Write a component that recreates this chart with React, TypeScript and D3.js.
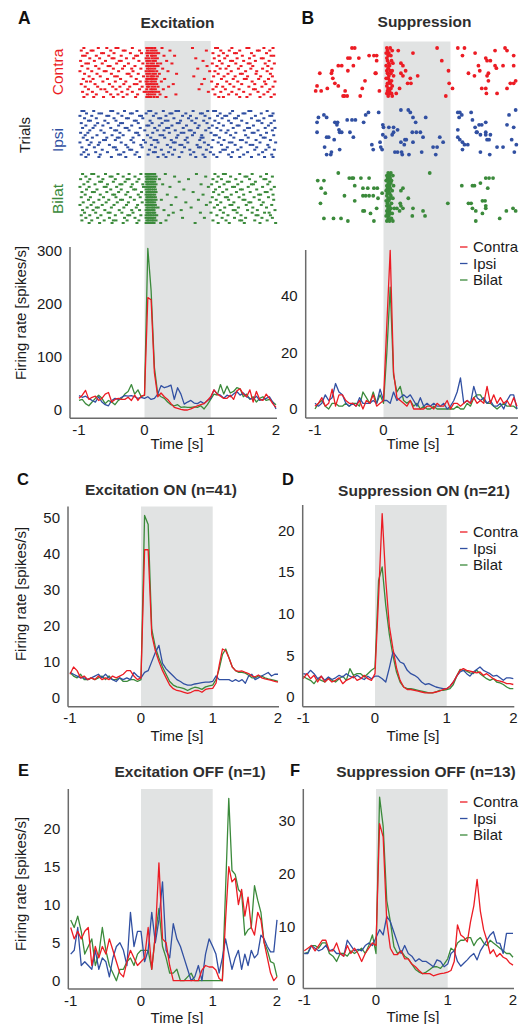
import React from 'react';
import * as d3 from 'd3';

// ---------- DATA ----------
const conditions = ['Contra', 'Ipsi', 'Bilat'];
const xTickValues = [-1, 0, 1, 2];

const binTimes = [-1, -0.95, -0.9, -0.85, -0.8, -0.75, -0.7, -0.65, -0.6, -0.55, -0.5, -0.45, -0.4, -0.35, -0.3, -0.25, -0.2, -0.15, -0.1, -0.05,
  0, 0.05, 0.1, 0.15, 0.2, 0.25, 0.3, 0.35, 0.4, 0.45, 0.5, 0.55, 0.6, 0.65, 0.7, 0.75, 0.8, 0.85, 0.9, 0.95,
  1, 1.05, 1.1, 1.15, 1.2, 1.25, 1.3, 1.35, 1.4, 1.45, 1.5, 1.55, 1.6, 1.65, 1.7, 1.75, 1.8, 1.85, 1.9, 1.95, 2];

// Panel A PSTH (spikes/s)
const psthAContra = [22, 28, 37, 20, 24, 26, 18, 22, 30, 33, 15, 20, 22, 20, 20, 24, 18, 28, 18, 26,
  28, 212, 208, 70, 25, 32, 25, 20, 12, 5, 3, 1, 0, 0, 2, 5, 8, 10, 12, 18,
  25, 38, 30, 26, 22, 22, 28, 20, 36, 40, 30, 25, 38, 15, 35, 20, 18, 30, 22, 12, 5];
const psthAIpsi = [27, 24, 26, 22, 18, 15, 25, 15, 10, 8, 18, 22, 20, 24, 27, 26, 27, 25, 22, 24,
  22, 25, 20, 22, 30, 46, 42, 44, 47, 20, 42, 30, 11, 15, 18, 13, 12, 16, 12, 18,
  22, 38, 30, 28, 22, 28, 25, 30, 35, 28, 32, 25, 22, 20, 26, 18, 20, 22, 25, 15, 2];
const psthABilat = [18, 20, 12, 8, 15, 22, 28, 22, 12, 18, 15, 10, 18, 22, 30, 35, 48, 30, 38, 25,
  28, 305, 225, 80, 30, 25, 22, 15, 10, 8, 10, 5, 6, 5, 5, 6, 5, 8, 2, 10,
  20, 30, 28, 48, 30, 45, 32, 35, 42, 40, 25, 30, 20, 25, 15, 22, 25, 18, 20, 15, 10];

// Panel B PSTH
const psthBContra = [1, 2, 4, 1, 2, 7, 1, 5, 5, 3, 2, 2, 1, 3, 0, 3, 2, 5, 1, 2,
  3, 30, 56, 13, 4, 3, 2, 1, 3, 0, 0, 0, 0, 1, 1, 0, 2, 1, 1, 3,
  0, 2, 2, 1, 2, 3, 2, 4, 2, 3, 2, 8, 2, 5, 2, 4, 2, 3, 1, 4, 1];
const psthBIpsi = [2, 1, 2, 5, 3, 4, 9, 6, 5, 2, 1, 2, 1, 4, 2, 2, 2, 3, 2, 7,
  3, 3, 2, 6, 3, 4, 5, 4, 5, 3, 1, 4, 1, 2, 1, 2, 1, 1, 2, 0,
  1, 3, 6, 11, 2, 3, 2, 8, 4, 3, 4, 2, 3, 1, 1, 2, 0, 3, 5, 5, 0];
const psthBBilat = [0, 2, 3, 1, 0, 2, 2, 1, 1, 2, 1, 2, 2, 1, 6, 4, 2, 6, 2, 5,
  2, 20, 43, 12, 6, 8, 3, 2, 3, 1, 2, 0, 1, 0, 0, 1, 0, 0, 0, 0,
  0, 0, 1, 0, 0, 2, 1, 4, 5, 5, 3, 2, 2, 1, 0, 1, 2, 1, 1, 1, 0];

// Panel C (Excitation ON)
const psthCContra = [6.5, 8.5, 7.5, 5.5, 6, 5, 5.5, 5, 6, 5, 5.5, 5, 6, 5.5, 6, 6.5, 7.5, 7.5, 6, 5,
  5.5, 41, 41, 17.5, 13, 10, 7.5, 5.5, 3.5, 2.5, 2, 1.8, 1.5, 1.2, 1.5, 2, 2, 1.5, 2.3, 2.5,
  2.6, 4, 9, 13.5, 13, 11, 8.5, 7.5, 7.3, 7.4, 7, 6.7, 6, 5.8, 6.3, 5.5, 5.2, 5, 4.8, 4.5, 4.3];
const psthCIpsi = [7, 6.5, 6, 5.5, 5.5, 5, 5.5, 6, 6.5, 5.5, 6.5, 5.5, 5, 4.5, 5.5, 5, 5.5, 5, 7, 6,
  5.5, 7, 7.5, 10, 12.5, 14.5, 9.5, 8, 7, 6, 5, 4.5, 3.8, 3.5, 3.5, 3.8, 4, 4.2, 4.3, 4.3,
  4.5, 6, 5, 5, 5, 5, 4.5, 5, 4.5, 5, 4, 6, 6.5, 5, 5.5, 6, 6.5, 7, 6, 6.5, 6.5];
const psthCBilat = [7, 6, 5.5, 6.5, 5, 5, 5.5, 5, 5.5, 6, 5, 6, 5, 5, 5.5, 4.5, 4.5, 5, 5, 4.5,
  5, 50.5, 48, 19, 14, 11, 8.5, 6.5, 4.5, 3.5, 3, 2.8, 2.5, 2, 2.5, 2.9, 2.7, 2.3, 3, 3.3,
  3.5, 5, 8, 12, 13.5, 11, 8.5, 7.5, 7, 7, 6.8, 6.2, 5.5, 5.5, 6, 6, 5.5, 5.2, 5, 4.8, 4.5];

// Panel D (Suppression ON)
const psthDContra = [2.2, 2.8, 2.2, 2.6, 1.8, 2.5, 1.8, 2.2, 1.8, 2.0, 2.3, 1.6, 2.0, 2.2, 2.5, 2.0, 2.2, 2.6, 2.2, 2.0,
  2.8, 12, 22, 14, 8.5, 5.8, 3.5, 2, 1.2, 0.9, 0.9, 0.8, 0.7, 0.6, 0.5, 0.5, 0.5, 0.6, 0.7, 0.9,
  1.0, 1.3, 1.8, 2.5, 3.2, 3.4, 3.2, 3.1, 3.0, 2.9, 3.0, 2.6, 2.8, 2.5, 2.2, 2.0, 1.9, 1.8, 1.6, 1.6, 1.5];
const psthDIpsi = [2.8, 2.7, 3.2, 2.8, 2.2, 2.5, 2.0, 2.4, 2.1, 2.3, 2.6, 2.4, 2.8, 2.5, 2.3, 2.6, 2.3, 2.1, 2.5, 2.2,
  2.5, 2.5, 2.2, 1.8, 3.5, 5.4, 4.8, 4.2, 4.0, 3.2, 2.8, 2.6, 2.3, 1.8, 1.5, 1.6, 1.4, 1.2, 1.1, 1.0,
  1.0, 1.3, 1.8, 2.5, 3.0, 3.2, 2.8, 2.5, 3.0, 3.3, 3.6, 3.2, 3.0, 2.8, 2.5, 2.6, 2.3, 2.0, 2.3, 2.3, 2.2];
const psthDBilat = [2.5, 2.2, 2.0, 1.6, 2.2, 2.0, 1.8, 2.3, 2.0, 1.8, 2.2, 2.5, 2.0, 3.4, 2.6, 2.8, 2.8, 2.4, 2.8, 3.2,
  3.5, 14, 15.6, 11, 7.5, 5, 3, 1.8, 1.2, 1.0, 1.0, 0.9, 0.8, 0.7, 0.6, 0.5, 0.5, 0.6, 0.8, 0.8,
  0.9, 1.0, 1.5, 2.5, 3.3, 3.2, 3.1, 2.9, 2.8, 3.2, 2.8, 2.5, 2.2, 2.0, 2.2, 1.8, 1.7, 1.5, 1.2, 1.0, 1.0];

// Panel E (Excitation OFF)
const psthEContra = [7, 5.5, 6.5, 5.5, 6.5, 7, 2, 4.5, 3, 4.5, 3.5, 5.5, 4, 2.5, 1, 0.5, 2.5, 4, 3, 2,
  2.5, 3, 7, 1.5, 6, 15.5, 5.5, 5, 2, 0, 0, 0, 0, 0, 0, 0, 0, 1.4, 2, 1.8,
  1.8, 1.4, 0.3, 0, 8, 15, 13, 13.5, 10, 12, 8.5, 11, 7, 6, 9, 8, 5, 3, 1, 0, 0.5];
const psthEIpsi = [3.5, 4, 7, 2, 2.5, 2, 1.5, 4, 1.5, 3, 2.5, 0.5, 3, 4.5, 5, 4, 2, 9, 4.5, 6.5,
  6.5, 2.5, 4, 9, 5, 8, 13, 4, 3, 7.5, 5.5, 4.5, 3, 1.5, 0, 0.5, 2, 0, 3.5, 5.5,
  4.5, 3.5, 1, 3, 5.5, 3.5, 1.5, 3, 4, 1.5, 3.5, 2, 4, 3, 3.5, 6, 5.5, 4.5, 3.8, 3.8, 8];
const psthEBilat = [8, 7, 8.5, 6.5, 3.5, 4.5, 5.5, 2, 3.5, 7, 4, 2, 1, 0, 1.5, 1.5, 2.5, 3, 2, 3.5,
  4, 4, 4, 1.5, 6, 9.5, 4.5, 3, 1, 1, 1.5, 0, 0, 0.5, 1, 0, 0, 0, 0, 0,
  0, 0, 0, 0, 12, 24, 14.5, 14, 12, 11.5, 6, 6.7, 7, 12.5, 10.6, 9, 5, 4, 2.5, 2.3, 0.5];

// Panel F (Suppression OFF)
const psthFContra = [5.5, 6, 6.5, 5.5, 6.5, 7.5, 7.5, 5.5, 5.5, 7, 5, 4.5, 6.5, 5, 6, 5, 3.5, 5, 6, 7,
  6.5, 29.5, 27, 11, 6, 4.8, 4.8, 5.5, 4, 4, 3, 2.5, 1.8, 1.2, 1.2, 1.2, 0.8, 1, 1.2, 1.3,
  1.5, 1.8, 3.5, 10.4, 8.5, 8, 7.2, 11, 14, 19, 13, 9.5, 7.5, 5, 5.7, 4.4, 5, 4.3, 4, 3.2, 2.8];
const psthFIpsi = [5, 5, 6.5, 6, 5.5, 5.8, 6.5, 5.5, 5.8, 5, 5, 4.5, 7.5, 6.5, 5.5, 5.8, 5.5, 6.5, 7, 6.5,
  8, 9.5, 8.5, 12, 11, 9, 7, 5, 6.5, 5, 4.5, 3.5, 4, 3.5, 3.5, 3, 2.5, 3.8, 3.5, 2.5,
  3, 5, 5.5, 3.5, 2.6, 3.2, 3.8, 4.5, 5, 3.8, 5.5, 6.5, 7.5, 8.5, 9.1, 7, 6.9, 5, 8.8, 8.8, 8.8];
const psthFBilat = [5, 5.2, 6.5, 6.5, 6, 7, 7, 5, 4.5, 3.5, 5, 5, 4.5, 5.5, 5, 5.5, 6, 5, 6.5, 8.5,
  5, 34.5, 29, 15, 11, 6.3, 5, 5.5, 4.5, 4, 3, 2, 1.5, 1.2, 1.5, 2, 2.5, 2.5, 2.2, 3,
  4, 6, 5.5, 7, 7.5, 7.5, 8, 8, 6.5, 7.5, 8, 7, 6.5, 7.5, 7, 6.5, 6, 5.5, 5, 5, 4.3];

// Panel A raster: spike times (s) per trial
const rasterAContra = [
  [-0.93, -0.71, -0.58, -0.44, -0.41, -0.19, 0.03, 0.07, 0.11, 0.15, 0.26, 0.72, 1.07, 1.10, 1.32, 1.55, 1.58, 1.81, 1.95],
  [-0.97, -0.82, -0.79, -0.52, -0.33, -0.30, -0.08, 0.04, 0.09, 0.13, 0.17, 0.38, 0.93, 1.15, 1.28, 1.44, 1.71, 1.74, 1.90],
  [-0.88, -0.66, -0.63, -0.47, -0.22, -0.05, 0.03, 0.06, 0.10, 0.14, 0.18, 0.21, 1.03, 1.19, 1.36, 1.39, 1.62, 1.85],
  [-0.95, -0.91, -0.74, -0.55, -0.36, -0.14, -0.11, 0.04, 0.10, 0.12, 0.16, 0.29, 0.45, 1.12, 1.25, 1.48, 1.66, 1.92, 1.96],
  [-0.84, -0.69, -0.50, -0.47, -0.28, -0.17, 0.02, 0.06, 0.11, 0.15, 0.19, 0.77, 1.05, 1.21, 1.40, 1.59, 1.77, 1.80],
  [-0.98, -0.77, -0.60, -0.39, -0.36, -0.09, 0.03, 0.07, 0.12, 0.16, 0.33, 0.88, 1.13, 1.30, 1.33, 1.50, 1.68, 1.89],
  [-0.90, -0.86, -0.65, -0.43, -0.25, -0.03, 0.04, 0.09, 0.13, 0.19, 0.24, 0.41, 1.02, 1.17, 1.38, 1.57, 1.60, 1.83, 1.97],
  [-0.96, -0.75, -0.56, -0.53, -0.31, -0.15, 0.03, 0.06, 0.10, 0.14, 0.17, 0.20, 0.94, 1.09, 1.27, 1.46, 1.64, 1.87],
  [-0.87, -0.70, -0.48, -0.34, -0.20, -0.06, 0.04, 0.07, 0.11, 0.15, 0.27, 0.80, 1.14, 1.23, 1.42, 1.61, 1.79, 1.93],
  [-0.99, -0.81, -0.62, -0.59, -0.40, -0.18, 0.02, 0.06, 0.09, 0.13, 0.18, 0.35, 0.98, 1.06, 1.31, 1.53, 1.70, 1.86],
  [-0.92, -0.73, -0.51, -0.27, -0.24, -0.10, 0.03, 0.07, 0.12, 0.16, 0.22, 0.48, 1.11, 1.26, 1.45, 1.48, 1.69, 1.91],
  [-0.85, -0.68, -0.46, -0.42, -0.21, -0.02, 0.04, 0.09, 0.11, 0.14, 0.19, 0.74, 1.04, 1.20, 1.37, 1.56, 1.76, 1.94],
  [-0.94, -0.79, -0.57, -0.37, -0.13, 0.03, 0.06, 0.10, 0.13, 0.17, 0.30, 0.90, 1.16, 1.34, 1.51, 1.54, 1.73, 1.88],
  [-0.89, -0.83, -0.64, -0.45, -0.29, -0.07, 0.02, 0.04, 0.09, 0.12, 0.16, 0.25, 1.01, 1.24, 1.41, 1.63, 1.82, 1.98],
  [-0.97, -0.76, -0.54, -0.32, -0.16, -0.12, 0.03, 0.07, 0.10, 0.14, 0.18, 0.43, 0.86, 1.10, 1.29, 1.47, 1.67, 1.84],
  [-0.91, -0.72, -0.49, -0.38, -0.23, -0.04, 0.04, 0.06, 0.11, 0.15, 0.20, 0.36, 1.08, 1.18, 1.35, 1.58, 1.78, 1.95],
  [-0.86, -0.67, -0.61, -0.44, -0.26, -0.08, 0.03, 0.09, 0.12, 0.16, 0.28, 0.82, 1.03, 1.22, 1.43, 1.65, 1.68, 1.90],
  [-0.95, -0.80, -0.58, -0.35, -0.19, -0.01, 0.02, 0.06, 0.10, 0.13, 0.17, 0.21, 0.96, 1.15, 1.32, 1.50, 1.72, 1.87],
  [-0.88, -0.74, -0.52, -0.41, -0.27, -0.11, 0.04, 0.07, 0.11, 0.15, 0.23, 0.47, 1.06, 1.27, 1.39, 1.60, 1.81, 1.97],
  [-0.93, -0.78, -0.63, -0.48, -0.33, -0.14, 0.03, 0.06, 0.09, 0.14, 0.19, 0.32, 1.12, 1.19, 1.44, 1.55, 1.75, 1.92],
];
const rasterAIpsi = [
  [-0.96, -0.93, -0.78, -0.52, -0.49, -0.31, -0.12, 0.06, 0.09, 0.28, 0.47, 0.51, 0.73, 0.95, 1.04, 1.07, 1.33, 1.58, 1.61, 1.86],
  [-0.89, -0.70, -0.66, -0.41, -0.22, -0.19, 0.02, 0.17, 0.38, 0.41, 0.62, 0.84, 0.87, 1.14, 1.29, 1.49, 1.52, 1.77, 1.95],
  [-0.99, -0.81, -0.58, -0.55, -0.35, -0.08, -0.05, 0.13, 0.32, 0.57, 0.69, 0.91, 1.10, 1.21, 1.24, 1.42, 1.68, 1.90, 1.93],
  [-0.92, -0.74, -0.47, -0.28, -0.25, -0.03, 0.21, 0.24, 0.44, 0.66, 0.78, 0.98, 1.17, 1.36, 1.39, 1.62, 1.81],
  [-0.86, -0.83, -0.61, -0.44, -0.16, -0.13, 0.08, 0.31, 0.35, 0.54, 0.71, 0.89, 1.06, 1.27, 1.47, 1.71, 1.74, 1.97],
  [-0.97, -0.72, -0.56, -0.37, -0.34, -0.10, 0.11, 0.26, 0.49, 0.52, 0.76, 0.94, 1.12, 1.31, 1.55, 1.78, 1.92],
  [-0.90, -0.76, -0.64, -0.40, -0.20, 0.03, 0.06, 0.22, 0.41, 0.63, 0.82, 1.02, 1.19, 1.40, 1.43, 1.65, 1.88],
  [-0.95, -0.79, -0.52, -0.30, -0.27, -0.07, 0.15, 0.33, 0.36, 0.58, 0.80, 0.97, 1.09, 1.34, 1.56, 1.59, 1.83, 1.98],
  [-0.84, -0.67, -0.46, -0.43, -0.24, 0.00, 0.19, 0.29, 0.46, 0.67, 0.70, 0.92, 1.15, 1.26, 1.51, 1.72, 1.94],
  [-0.98, -0.87, -0.62, -0.38, -0.14, -0.11, 0.12, 0.37, 0.55, 0.59, 0.75, 1.00, 1.23, 1.38, 1.63, 1.66, 1.85],
  [-0.91, -0.73, -0.50, -0.33, -0.09, 0.04, 0.23, 0.27, 0.50, 0.72, 0.86, 1.05, 1.08, 1.30, 1.53, 1.76, 1.96],
  [-0.94, -0.80, -0.58, -0.42, -0.39, -0.18, 0.09, 0.30, 0.48, 0.64, 0.85, 0.88, 1.13, 1.35, 1.57, 1.80, 1.83],
  [-0.88, -0.63, -0.60, -0.45, -0.21, -0.02, 0.14, 0.18, 0.40, 0.61, 0.83, 1.03, 1.20, 1.45, 1.48, 1.69, 1.91],
  [-0.99, -0.82, -0.69, -0.36, -0.17, 0.01, 0.20, 0.43, 0.46, 0.65, 0.90, 1.11, 1.28, 1.32, 1.54, 1.75, 1.99],
  [-0.85, -0.71, -0.54, -0.29, -0.06, 0.10, 0.34, 0.53, 0.56, 0.79, 0.96, 1.16, 1.37, 1.60, 1.64, 1.87],
  [-0.96, -0.77, -0.48, -0.45, -0.26, -0.04, 0.16, 0.39, 0.60, 0.81, 0.84, 1.01, 1.25, 1.46, 1.70, 1.89],
  [-0.89, -0.65, -0.43, -0.23, -0.20, 0.07, 0.25, 0.45, 0.68, 0.93, 1.18, 1.22, 1.41, 1.67, 1.84, 1.97],
  [-0.93, -0.75, -0.57, -0.32, -0.12, 0.13, 0.16, 0.36, 0.56, 0.74, 0.99, 1.14, 1.33, 1.56, 1.79],
  [-0.97, -0.86, -0.68, -0.40, -0.37, -0.15, 0.05, 0.28, 0.42, 0.69, 0.88, 1.04, 1.27, 1.50, 1.73, 1.93],
  [-0.90, -0.70, -0.51, -0.29, -0.08, 0.20, 0.32, 0.52, 0.77, 0.91, 1.09, 1.31, 1.44, 1.62, 1.82, 1.95],
];
const rasterABilat = [
  [-0.95, -0.81, -0.78, -0.60, -0.41, -0.24, -0.06, 0.02, 0.05, 0.07, 0.09, 0.12, 0.15, 0.31, 0.78, 1.06, 1.19, 1.22, 1.44, 1.63, 1.85],
  [-0.90, -0.71, -0.53, -0.50, -0.33, -0.15, 0.02, 0.04, 0.06, 0.08, 0.11, 0.14, 0.17, 0.45, 0.92, 1.11, 1.30, 1.52, 1.55, 1.76, 1.94],
  [-0.98, -0.84, -0.64, -0.45, -0.27, -0.24, -0.09, 0.03, 0.05, 0.08, 0.10, 0.13, 0.16, 0.22, 0.66, 1.03, 1.16, 1.38, 1.59, 1.81, 1.84],
  [-0.87, -0.69, -0.66, -0.48, -0.30, -0.12, 0.02, 0.04, 0.07, 0.10, 0.12, 0.15, 0.52, 1.09, 1.25, 1.28, 1.47, 1.68, 1.90],
  [-0.93, -0.76, -0.57, -0.38, -0.35, -0.19, -0.03, 0.03, 0.05, 0.08, 0.11, 0.14, 0.17, 0.27, 0.85, 1.01, 1.20, 1.41, 1.62, 1.65, 1.87],
  [-0.99, -0.85, -0.62, -0.59, -0.43, -0.21, -0.02, 0.02, 0.04, 0.07, 0.09, 0.12, 0.15, 0.38, 0.96, 1.13, 1.33, 1.36, 1.57, 1.79, 1.97],
  [-0.89, -0.73, -0.52, -0.36, -0.17, -0.14, 0.02, 0.05, 0.07, 0.10, 0.13, 0.16, 0.59, 1.07, 1.24, 1.45, 1.48, 1.70, 1.92],
  [-0.96, -0.80, -0.77, -0.58, -0.40, -0.26, -0.05, 0.03, 0.06, 0.08, 0.11, 0.14, 0.17, 0.73, 1.04, 1.18, 1.39, 1.60, 1.83, 1.86],
  [-0.91, -0.68, -0.49, -0.46, -0.29, -0.10, 0.02, 0.04, 0.07, 0.09, 0.12, 0.15, 0.34, 0.88, 1.12, 1.31, 1.50, 1.73, 1.76, 1.95],
  [-0.97, -0.83, -0.63, -0.44, -0.22, -0.07, 0.03, 0.05, 0.08, 0.10, 0.13, 0.16, 0.47, 1.02, 1.22, 1.25, 1.43, 1.66, 1.88],
  [-0.86, -0.70, -0.55, -0.37, -0.34, -0.16, 0.02, 0.04, 0.06, 0.09, 0.11, 0.14, 0.17, 0.25, 0.81, 1.08, 1.27, 1.49, 1.52, 1.74, 1.96],
  [-0.94, -0.78, -0.59, -0.42, -0.25, -0.04, 0.03, 0.05, 0.07, 0.10, 0.12, 0.15, 0.62, 0.99, 1.15, 1.35, 1.58, 1.61, 1.80],
  [-0.99, -0.82, -0.65, -0.47, -0.28, -0.11, 0.02, 0.04, 0.07, 0.09, 0.12, 0.16, 0.40, 0.93, 1.10, 1.29, 1.32, 1.54, 1.77, 1.93],
  [-0.88, -0.74, -0.71, -0.51, -0.32, -0.13, 0.03, 0.05, 0.08, 0.11, 0.13, 0.16, 0.20, 0.70, 1.05, 1.21, 1.42, 1.64, 1.85],
  [-0.95, -0.79, -0.61, -0.39, -0.20, -0.08, 0.02, 0.04, 0.06, 0.09, 0.12, 0.14, 0.29, 0.55, 1.14, 1.34, 1.37, 1.56, 1.71, 1.98],
  [-0.92, -0.75, -0.56, -0.53, -0.35, -0.18, 0.03, 0.05, 0.07, 0.10, 0.13, 0.15, 0.43, 0.84, 1.00, 1.19, 1.40, 1.63, 1.82, 1.89],
  [-0.97, -0.84, -0.67, -0.45, -0.26, -0.23, -0.06, 0.02, 0.04, 0.07, 0.09, 0.12, 0.15, 0.18, 0.36, 1.09, 1.26, 1.46, 1.69, 1.72, 1.91],
  [-0.90, -0.72, -0.54, -0.31, -0.15, 0.02, 0.05, 0.07, 0.10, 0.12, 0.15, 0.57, 0.90, 1.17, 1.36, 1.53, 1.78, 1.94],
  [-0.96, -0.81, -0.62, -0.48, -0.44, -0.27, -0.09, 0.03, 0.05, 0.07, 0.10, 0.12, 0.14, 0.17, 0.32, 1.03, 1.23, 1.44, 1.47, 1.67, 1.86],
  [-0.85, -0.69, -0.50, -0.33, -0.12, 0.02, 0.04, 0.06, 0.09, 0.11, 0.14, 0.24, 0.76, 1.11, 1.28, 1.51, 1.75, 1.99],
];

// Panel B raster: [time (s), trial index]
const rasterBContra = [
  [-0.46, 0], [-0.42, 0], [-0.52, 4], [-0.49, 4], [-0.36, 4], [-0.21, 3], [-0.14, 3], [-0.10, 3], [-0.66, 7], [-0.75, 9],
  [-0.76, 10], [-0.61, 7], [-0.93, 10], [-0.52, 9], [-0.44, 7], [-0.74, 12], [-0.71, 14], [-0.27, 13], [-0.12, 10], [-0.11, 10],
  [-0.10, 5], [-0.97, 15], [-0.91, 17], [-0.82, 16], [-0.99, 17], [-0.66, 15], [-0.56, 17], [-0.59, 19], [-0.57, 19], [-0.53, 19],
  [-0.34, 19], [-0.31, 16], [-0.06, 17],
  [0.05, 0], [0.10, 0], [0.06, 1], [0.13, 1], [0.04, 2], [0.08, 2], [0.07, 3], [0.11, 3], [0.05, 4], [0.06, 5], [0.12, 5],
  [0.08, 6], [0.14, 6], [0.04, 7], [0.09, 7], [0.07, 8], [0.05, 9], [0.10, 9], [0.13, 9], [0.06, 10], [0.11, 10], [0.08, 11],
  [0.15, 11], [0.04, 12], [0.07, 12], [0.09, 13], [0.12, 13], [0.06, 14], [0.10, 14], [0.05, 15], [0.13, 15], [0.07, 16],
  [0.11, 16], [0.06, 17], [0.09, 17], [0.05, 18], [0.08, 18], [0.12, 18], [0.07, 19], [0.13, 19],
  [0.22, 1], [0.44, 2], [0.26, 6], [0.29, 7], [0.33, 9], [0.26, 10], [0.29, 11], [0.51, 11], [0.40, 12], [0.36, 14], [0.41, 14],
  [0.80, 0], [0.87, 5], [0.97, 9], [0.98, 14], [0.93, 19], [1.03, 16], [0.24, 16], [0.19, 18],
  [1.11, 0], [1.21, 0], [1.18, 3], [1.37, 2], [1.53, 4], [1.67, 1], [1.82, 0], [1.85, 1], [1.95, 3], [1.60, 5], [1.55, 5],
  [1.42, 7], [1.44, 9], [1.27, 10], [1.36, 11], [1.57, 10], [1.55, 11], [1.57, 13], [1.67, 7], [1.69, 8], [1.79, 7], [1.95, 7],
  [1.90, 14], [1.95, 14], [1.98, 13], [1.85, 16], [1.47, 16], [1.53, 16], [1.70, 18], [1.54, 18],
];
const rasterBIpsi = [
  [-0.95, 3], [-0.87, 2], [-0.83, 3], [-0.97, 5], [-0.71, 5], [-0.67, 5], [-0.68, 6], [-0.53, 4], [-0.46, 4], [-0.41, 4],
  [-0.29, 5], [-0.26, 2], [-0.22, 1], [-0.07, 1], [-0.97, 9], [-0.65, 8], [-0.64, 9], [-0.61, 9], [-0.49, 9], [-0.83, 11],
  [-0.80, 11], [-0.72, 12], [-0.44, 11], [-0.86, 15], [-0.17, 14], [-0.15, 16], [-0.64, 16], [-0.76, 17], [-0.83, 18], [-0.77, 18],
  [-0.04, 15], [-0.02, 16], [-0.05, 13],
  [-0.01, 6], [0.08, 7], [0.15, 7], [0.00, 7], [0.15, 9], [0.21, 8], [-0.01, 10], [0.03, 11], [0.13, 10], [0.26, 0], [0.37, 0],
  [0.40, 1], [0.44, 3], [0.48, 5], [0.63, 3], [0.43, 9], [0.49, 9], [0.55, 9], [0.59, 11], [0.32, 12], [0.34, 12], [0.26, 13],
  [0.31, 14], [0.44, 13], [0.84, 11], [0.89, 13], [0.74, 15], [0.80, 15], [0.57, 17], [0.17, 17], [0.21, 17], [0.27, 17],
  [0.28, 18], [0.38, 18], [0.78, 18],
  [1.11, 1], [1.14, 1], [1.13, 3], [1.17, 2], [1.31, 1], [1.33, 4], [1.43, 6], [1.47, 6], [1.53, 5], [1.88, 2], [1.98, 0],
  [1.85, 6], [1.95, 7], [1.11, 8], [1.37, 7], [1.39, 9], [1.53, 9], [1.40, 9], [1.45, 10], [1.53, 10], [1.60, 10], [1.55, 12],
  [1.58, 12], [1.11, 11], [1.14, 12], [1.18, 13], [1.21, 14], [1.26, 14], [1.18, 16], [1.45, 17], [1.59, 18], [1.70, 15],
  [1.79, 15], [1.92, 12], [1.99, 14], [1.96, 17],
];
const rasterBBilat = [
  [-0.66, 0], [-0.96, 3], [-0.87, 3], [-0.50, 2], [-0.46, 2], [-0.44, 2], [-0.33, 2], [-0.21, 2], [-0.91, 6], [-0.42, 5],
  [-0.30, 6], [-0.23, 6], [-0.14, 6], [-0.09, 6], [-0.85, 8], [-0.57, 9], [-0.30, 9], [-0.26, 9], [-0.21, 9], [-0.15, 9],
  [-0.92, 12], [-0.42, 11], [-0.08, 10], [-0.30, 15], [-0.28, 15], [-0.19, 16], [-0.10, 14], [-0.87, 18], [-0.73, 18],
  [-0.62, 18], [-0.52, 19], [-0.14, 19], [-0.02, 8],
  [0.07, 0], [0.11, 0], [0.05, 1], [0.09, 1], [0.14, 1], [0.06, 2], [0.10, 2], [0.04, 3], [0.08, 3], [0.12, 3], [0.07, 4],
  [0.11, 4], [0.05, 5], [0.09, 5], [0.15, 5], [0.06, 6], [0.10, 6], [0.04, 7], [0.08, 7], [0.13, 7], [0.06, 8], [0.09, 8],
  [0.05, 9], [0.11, 9], [0.07, 10], [0.10, 10], [0.14, 10], [0.04, 11], [0.08, 11], [0.06, 12], [0.12, 12], [0.05, 13],
  [0.09, 13], [0.07, 14], [0.11, 14], [0.16, 14], [0.05, 15], [0.09, 15], [0.06, 16], [0.10, 16], [0.13, 16], [0.04, 17],
  [0.08, 17], [0.07, 18], [0.12, 18], [0.05, 19], [0.09, 19], [0.14, 19],
  [0.29, 6], [0.26, 7], [0.37, 10], [0.25, 12], [0.26, 13], [0.44, 14], [0.20, 14], [0.24, 15], [0.29, 14], [0.59, 15],
  [0.62, 17], [0.43, 17], [0.69, 0], [0.96, 12],
  [1.53, 2], [1.58, 2], [1.64, 2], [1.45, 4], [1.36, 5], [1.33, 5], [1.56, 6], [1.17, 5], [1.48, 11], [1.52, 11], [1.53, 13],
  [1.27, 12], [1.31, 12], [1.33, 14], [1.53, 14], [1.38, 15], [1.48, 16], [1.84, 15], [1.94, 14], [1.98, 15], [1.74, 18],
  [1.38, 19],
];

// ---------- STYLE ----------
const FONT = "'Liberation Sans', Arial, Helvetica, sans-serif";
const COLORS: Record<string, string> = { Contra: '#ec1c24', Ipsi: '#3150a2', Bilat: '#3b8a3b' };
const SHADE = '#e1e3e3';
const AXIS = '#6b6b6b';
const TEXT = '#1a1a1a';
const TITLE = '#2e2e2e';

type Layout = {
  xr: number[]; yd: number[]; yr: number[]; yTicks: number[];
  axisX: number; axisTop: number; axisY: number; shadeTop: number;
  timeLabel: [number, number]; yLabel?: [number, number]; legend?: [number, number];
  title?: string; titleAt?: [number, number]; letter?: string; letterAt?: [number, number];
};

const layouts: Record<string, Layout> = {
  A: { xr: [79, 144.5, 210.7, 276], yd: [0, 300], yr: [410, 251], yTicks: [0, 100, 200, 300], axisX: 70, axisTop: 247, axisY: 418.3, shadeTop: 41, timeLabel: [177, 449], yLabel: [26, 313] },
  B: { xr: [315, 383.5, 450.5, 517], yd: [0, 40], yr: [409, 295.7], yTicks: [0, 20, 40], axisX: 305.7, axisTop: 250, axisY: 418, shadeTop: 41.5, timeLabel: [413, 449], legend: [460, 247] },
  C: { xr: [70, 141, 212.7, 278], yd: [0, 50], yr: [697.7, 517.3], yTicks: [0, 10, 20, 30, 40, 50], axisX: 68, axisTop: 506.5, axisY: 706.7, shadeTop: 506.5, timeLabel: [177, 741], yLabel: [26, 594], title: 'Excitation ON (n=41)', titleAt: [161, 495], letter: 'C', letterAt: [17, 485] },
  D: { xr: [303.3, 375, 446.7, 513.3], yd: [0, 20], yr: [697, 530.3], yTicks: [0, 5, 10, 15, 20], axisX: 302.7, axisTop: 505, axisY: 706.7, shadeTop: 505, timeLabel: [413, 741], legend: [460, 532], title: 'Suppression ON (n=21)', titleAt: [424, 496], letter: 'D', letterAt: [282, 485] },
  E: { xr: [70.7, 141, 212.7, 277], yd: [0, 20], yr: [980.7, 828.7], yTicks: [0, 5, 10, 15, 20], axisX: 68.3, axisTop: 789, axisY: 989, shadeTop: 789, timeLabel: [177, 1022.5], yLabel: [26, 884], title: 'Excitation OFF (n=1)', titleAt: [190, 777], letter: 'E', letterAt: [18, 776] },
  F: { xr: [304.3, 376, 447.7, 513], yd: [0, 30], yr: [980, 821], yTicks: [0, 10, 20, 30], axisX: 303.3, axisTop: 789, axisY: 988.5, shadeTop: 789, timeLabel: [413, 1022], legend: [460, 802], title: 'Suppression OFF (n=13)', titleAt: [426, 777], letter: 'F', letterAt: [290, 776] },
};

const psthSeries: Record<string, number[][]> = {
  A: [psthAContra, psthAIpsi, psthABilat],
  B: [psthBContra, psthBIpsi, psthBBilat],
  C: [psthCContra, psthCIpsi, psthCBilat],
  D: [psthDContra, psthDIpsi, psthDBilat],
  E: [psthEContra, psthEIpsi, psthEBilat],
  F: [psthFContra, psthFIpsi, psthFBilat],
};

const drawOrder = [2, 1, 0]; // Bilat, Ipsi, Contra on top

function Psth({ id }: { id: string }) {
  const L = layouts[id];
  const series = psthSeries[id];
  const x = d3.scaleLinear().domain(xTickValues).range(L.xr);
  const y = d3.scaleLinear().domain(L.yd).range(L.yr);
  const line = d3.line<number>().x((_, i) => x(binTimes[i])).y((d) => y(d));
  return (
    <g>
      <rect x={x(0)} y={L.shadeTop} width={x(1) - x(0)} height={L.axisY - L.shadeTop} fill={SHADE} />
      {drawOrder.map((ci) => (
        <path key={ci} d={line(series[ci]) || ''} fill="none" stroke={COLORS[conditions[ci]]} strokeWidth={1.3} strokeLinejoin="round" />
      ))}
      <line x1={L.axisX} x2={L.axisX} y1={L.axisTop} y2={L.axisY} stroke={AXIS} strokeWidth={1.5} />
      <line x1={L.axisX} x2={Math.min(x(2) + 1, 519)} y1={L.axisY} y2={L.axisY} stroke={AXIS} strokeWidth={1.5} />
      {L.yTicks.map((v) => (
        <text key={v} x={L.axisX - 8} y={y(v)} dy="0.36em" textAnchor="end" fontSize={15} fill={TEXT} fontFamily={FONT}>{v}</text>
      ))}
      {xTickValues.map((v) => (
        <text key={v} x={Math.min(x(v), 514)} y={L.axisY + 16.5} textAnchor="middle" fontSize={15} fill={TEXT} fontFamily={FONT}>{v}</text>
      ))}
      <text x={L.timeLabel[0]} y={L.timeLabel[1]} textAnchor="middle" fontSize={15} fill={TEXT} fontFamily={FONT}>Time [s]</text>
      {L.yLabel && (
        <text transform={`translate(${L.yLabel[0]},${L.yLabel[1]}) rotate(-90)`} textAnchor="middle" fontSize={15} fill={TEXT} fontFamily={FONT}>Firing rate [spikes/s]</text>
      )}
      {L.legend && conditions.map((c, i) => {
        const ly = L.legend![1] + i * 16.5;
        return (
          <g key={c}>
            <line x1={L.legend![0]} x2={L.legend![0] + 7.5} y1={ly} y2={ly} stroke={COLORS[c]} strokeWidth={1.3} />
            <text x={L.legend![0] + 13} y={ly} dy="0.36em" fontSize={15} fill={TEXT} fontFamily={FONT}>{c}</text>
          </g>
        );
      })}
      {L.title && (
        <text x={L.titleAt![0]} y={L.titleAt![1]} textAnchor="middle" fontSize={15.5} fontWeight="bold" fill={TITLE} fontFamily={FONT}>{L.title}</text>
      )}
      {L.letter && (
        <text x={L.letterAt![0]} y={L.letterAt![1]} fontSize={16.5} fontWeight="bold" fill="#111" fontFamily={FONT}>{L.letter}</text>
      )}
    </g>
  );
}

const rowRangesA = [[48, 97], [111, 157], [174, 223]];
const rowRangesB = [[48, 96], [110, 157], [173, 221]];

function RasterA() {
  const x = d3.scaleLinear().domain(xTickValues).range(layouts.A.xr);
  const sets = [rasterAContra, rasterAIpsi, rasterABilat];
  return (
    <g>
      {sets.map((trials, ci) => {
        const rowY = d3.scaleLinear().domain([0, trials.length - 1]).range(rowRangesA[ci]);
        return trials.map((spikes, ti) =>
          spikes.map((t, k) => (
            <rect key={`${ci}-${ti}-${k}`} x={x(t) - 1.2} y={rowY(ti) - 1} width={3} height={2} fill={COLORS[conditions[ci]]} />
          ))
        );
      })}
    </g>
  );
}

function RasterB() {
  const x = d3.scaleLinear().domain(xTickValues).range(layouts.B.xr);
  const sets = [rasterBContra, rasterBIpsi, rasterBBilat];
  return (
    <g>
      {sets.map((pts, ci) => {
        const rowY = d3.scaleLinear().domain([0, 19]).range(rowRangesB[ci]);
        return pts.map(([t, r], k) => (
          <circle key={`${ci}-${k}`} cx={x(t)} cy={rowY(r)} r={1.9} fill={COLORS[conditions[ci]]} />
        ));
      })}
    </g>
  );
}

export default function App() {
  return (
    <svg width={519} height={1024} style={{ position: 'absolute', left: 0, top: 0, background: '#fff' }} fontFamily={FONT}>
      <rect width={519} height={1024} fill="#fff" />
      <text x={18} y={24} fontSize={17.5} fontWeight="bold" fill="#111">A</text>
      <text x={301.5} y={24} fontSize={17.5} fontWeight="bold" fill="#111">B</text>
      <text x={177.5} y={27.5} textAnchor="middle" fontSize={15.5} fontWeight="bold" fill={TITLE}>Excitation</text>
      <text x={424.5} y={27} textAnchor="middle" fontSize={15.5} fontWeight="bold" fill={TITLE}>Suppression</text>

      <Psth id="A" />
      <Psth id="B" />
      <RasterA />
      <RasterB />

      <text transform="translate(30,135) rotate(-90)" textAnchor="middle" fontSize={15} fill={TEXT}>Trials</text>
      <text transform="translate(63,72) rotate(-90)" textAnchor="middle" fontSize={15.5} fill={COLORS.Contra}>Contra</text>
      <text transform="translate(63,140) rotate(-90)" textAnchor="middle" fontSize={15.5} fill={COLORS.Ipsi}>Ipsi</text>
      <text transform="translate(63,199) rotate(-90)" textAnchor="middle" fontSize={15.5} fill={COLORS.Bilat}>Bilat</text>

      <Psth id="C" />
      <Psth id="D" />
      <Psth id="E" />
      <Psth id="F" />
    </svg>
  );
}
